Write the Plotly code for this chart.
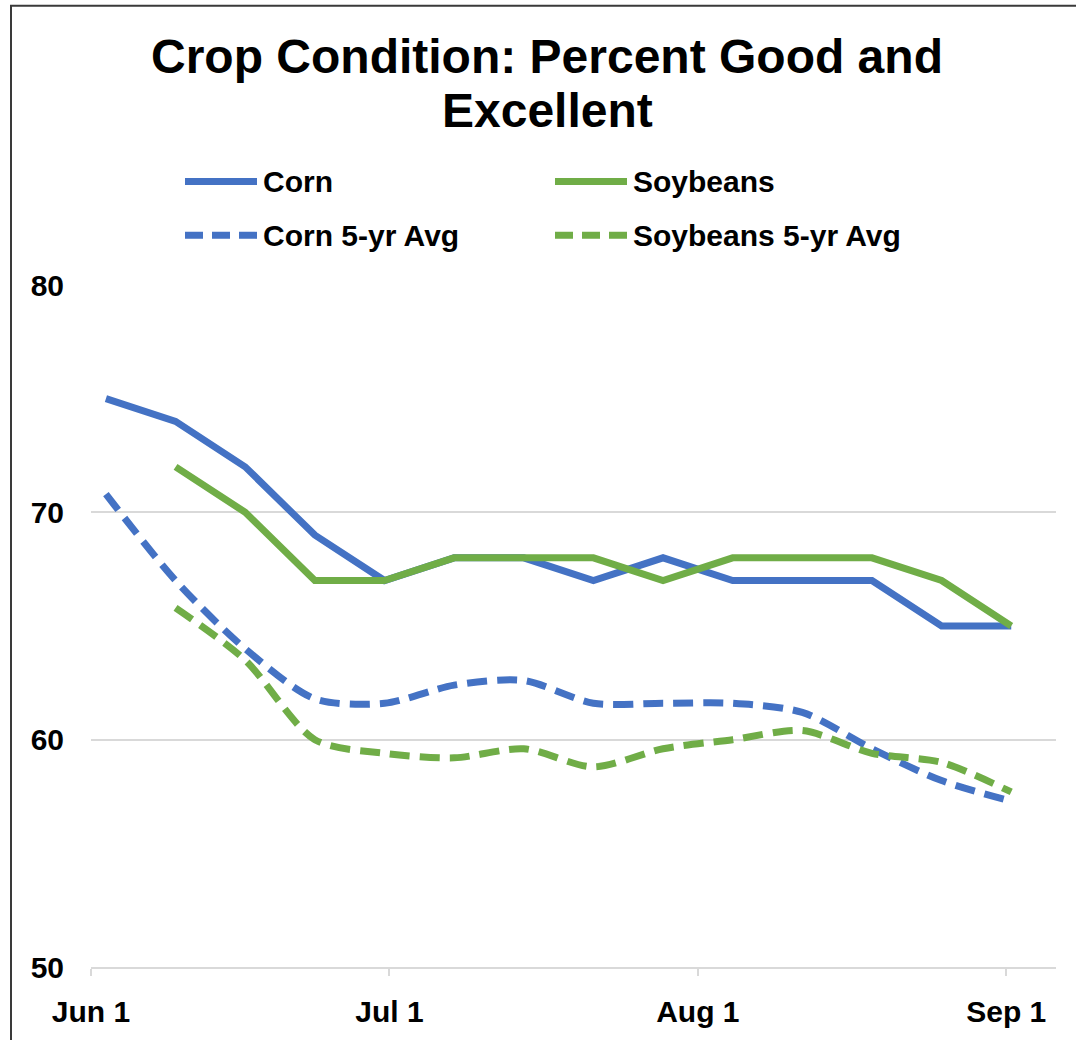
import plotly.graph_objects as go
import pandas as pd

# ---- data ----
dates = ["2024-06-02", "2024-06-09", "2024-06-16", "2024-06-23", "2024-06-30",
         "2024-07-07", "2024-07-14", "2024-07-21", "2024-07-28", "2024-08-04",
         "2024-08-11", "2024-08-18", "2024-08-25", "2024-09-01"]
corn = [75, 74, 72, 69, 67, 68, 68, 67, 68, 67, 67, 67, 65, 65]
soybeans = [None, 72, 70, 67, 67, 68, 68, 68, 67, 68, 68, 68, 67, 65]
corn_5yr = [70.8, 67.0, 64.0, 61.8, 61.6, 62.4, 62.6, 61.6, 61.6, 61.6, 61.2, 59.6, 58.2, 57.3]
soy_5yr = [None, 65.8, 63.5, 60.0, 59.4, 59.2, 59.6, 58.8, 59.6, 60.0, 60.4, 59.4, 59.0, 57.7]

tick_dates = ["2024-06-01", "2024-07-01", "2024-08-01", "2024-09-01"]
tick_labels = ["Jun 1", "Jul 1", "Aug 1", "Sep 1"]
y_ticks = [50, 60, 70, 80]

series_names = ["Corn", "Soybeans", "Corn 5-yr Avg", "Soybeans 5-yr Avg"]
title_lines = ["Crop Condition: Percent Good and", "Excellent"]

# ---- styling ----
BLUE = "#4472C4"
GREEN = "#70AD47"
GRID = "#d9d9d9"
FONT = "Liberation Sans, Arial, sans-serif"
W, H = 1076, 1040
L, R, T, B = 91, 20, 285, 69
PW, PH = W - L - R, H - T - B

# points sit in the middle of each day slot (Excel date axis)
x = pd.to_datetime(dates) + pd.Timedelta(hours=12)

fig = go.Figure()
fig.add_trace(go.Scatter(x=x, y=corn, name=series_names[0], mode="lines",
                         line=dict(color=BLUE, width=7)))
fig.add_trace(go.Scatter(x=x, y=soybeans, name=series_names[1], mode="lines",
                         line=dict(color=GREEN, width=7)))
fig.add_trace(go.Scatter(x=x, y=corn_5yr, name=series_names[2], mode="lines",
                         line=dict(color=BLUE, width=7, dash="20px,10px",
                                   shape="spline", smoothing=0.8)))
fig.add_trace(go.Scatter(x=x, y=soy_5yr, name=series_names[3], mode="lines",
                         line=dict(color=GREEN, width=7, dash="20px,10px",
                                   shape="spline", smoothing=0.8)))


def px_x(p):
    return (p - L) / PW


def px_y(p):
    return (H - B - p) / PH


# custom legend (long line symbols like the original)
legend_items = [
    (series_names[0], BLUE, "solid", 185, 181),
    (series_names[1], GREEN, "solid", 555, 181),
    (series_names[2], BLUE, "18px,9px", 185, 235),
    (series_names[3], GREEN, "18px,9px", 555, 235),
]
shapes = []
annotations = []
for name, col, dash, lx, ly in legend_items:
    shapes.append(dict(type="line", xref="paper", yref="paper",
                       x0=px_x(lx), x1=px_x(lx + 72), y0=px_y(ly), y1=px_y(ly),
                       line=dict(color=col, width=7, dash=dash)))
    annotations.append(dict(xref="paper", yref="paper", x=px_x(lx + 76), y=px_y(ly),
                            xanchor="left", yanchor="middle", showarrow=False,
                            text=name, font=dict(family=FONT, size=30, color="black", weight="bold")))

# two-line title, placed line by line to match the original line spacing
for txt, cy in zip(title_lines, [55, 109]):
    annotations.append(dict(xref="paper", yref="paper", x=px_x(547), y=px_y(cy),
                            xanchor="center", yanchor="middle", showarrow=False,
                            text=txt, font=dict(family=FONT, size=48, color="black", weight="bold")))

# outer border of the chart
shapes.append(dict(type="rect", xref="paper", yref="paper",
                   x0=px_x(11), x1=px_x(1090), y0=px_y(1050), y1=px_y(4),
                   line=dict(color="#3a3a3a", width=2), fillcolor="rgba(0,0,0,0)"))

fig.update_layout(
    width=W, height=H,
    margin=dict(l=L, r=R, t=T, b=B),
    paper_bgcolor="white", plot_bgcolor="white",
    showlegend=False,
    shapes=shapes,
    annotations=annotations,
    xaxis=dict(type="date", range=["2024-06-01", "2024-09-06"],
               tickvals=tick_dates, ticktext=tick_labels,
               showgrid=False, zeroline=False,
               showline=True, linecolor=GRID, linewidth=1.5,
               ticks="outside", ticklen=7, tickcolor=GRID, tickwidth=1.5,
               ticklabelstandoff=10,
               tickfont=dict(family=FONT, size=30, color="black", weight="bold")),
    yaxis=dict(range=[50, 80], tickvals=y_ticks,
               showgrid=True, gridcolor=GRID, gridwidth=1.5,
               zeroline=False, showline=False, ticks="",
               ticklabelstandoff=26,
               tickfont=dict(family=FONT, size=30, color="black", weight="bold")),
)

fig.write_html("out.html")
